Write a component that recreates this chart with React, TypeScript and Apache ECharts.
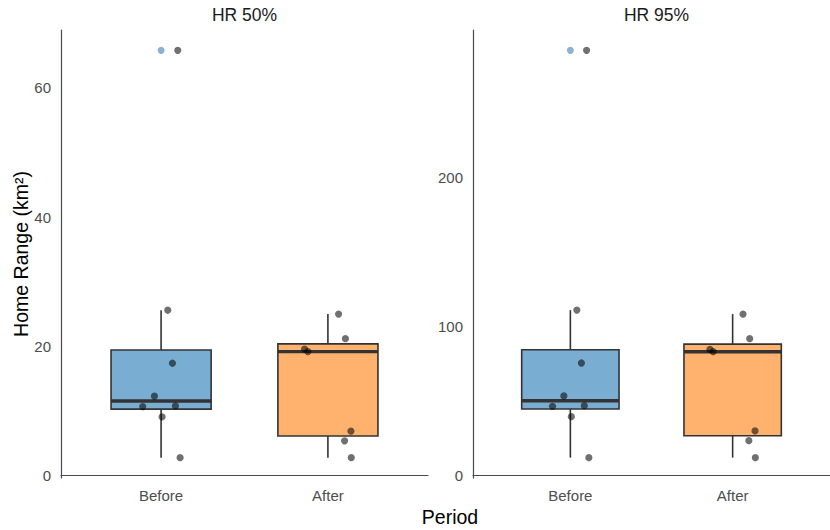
import { useEffect, useRef } from "react";
import * as echarts from "echarts";

// Period categories, drawn at x = 1 and x = 2
const periods = ["Before", "After"];

// Home range areas (km²) per animal
const hr50Before = [65.8, 25.6, 17.4, 12.3, 10.7, 10.8, 9.1, 2.8];
const hr50After = [25.0, 21.2, 19.6, 19.2, 6.9, 5.4, 2.8];
const hr95Before = [285, 110.7, 75.2, 53.1, 46.1, 46.6, 39.2, 11.7];
const hr95After = [108, 91.5, 84.3, 82.8, 29.6, 23.1, 11.7];

// Horizontal jitter of each point (in category units)
const jitterBefore = [0.1, 0.04, 0.068, -0.04, -0.11, 0.086, 0.006, 0.114];
const jitterAfter = [0.064, 0.105, -0.14, -0.12, 0.138, 0.1, 0.14];

// Tick labels
const hr50Ticks = [0, 20, 40, 60];
const hr95Ticks = [0, 100, 200];

const panelTitles = ["HR 50%", "HR 95%"];
const boxFills = ["#79add2", "#ffb26e"];

const FONT = "'Liberation Sans', Arial, Helvetica, sans-serif";
const BOX_WIDTH = 0.6;

function quantile(sorted: number[], p: number) {
  const h = (sorted.length - 1) * p;
  const lo = Math.floor(h);
  const hi = Math.min(lo + 1, sorted.length - 1);
  return sorted[lo] + (h - lo) * (sorted[hi] - sorted[lo]);
}

function boxStats(values: number[]) {
  const s = [...values].sort((a, b) => a - b);
  const q1 = quantile(s, 0.25);
  const med = quantile(s, 0.5);
  const q3 = quantile(s, 0.75);
  const iqr = q3 - q1;
  const inside = s.filter((v) => v >= q1 - 1.5 * iqr && v <= q3 + 1.5 * iqr);
  const outliers = s.filter((v) => v < q1 - 1.5 * iqr || v > q3 + 1.5 * iqr);
  return {
    box: [inside[0], q1, med, q3, inside[inside.length - 1]],
    outliers,
  };
}

function expandedRange(groups: number[][]) {
  const all = groups.flat();
  const mn = Math.min(...all);
  const mx = Math.max(...all);
  const pad = (mx - mn) * 0.05;
  return [mn - pad, mx + pad];
}

function buildPanel(idx: number, before: number[], after: number[], ticks: number[]) {
  const groups = [before, after];
  const stats = groups.map(boxStats);
  const [ymin, ymax] = expandedRange(groups);

  const xAxis = {
    type: "value",
    gridIndex: idx,
    min: 0.4,
    max: 2.6,
    axisLine: { show: true, lineStyle: { color: "#4a4a4a", width: 1.2 } },
    axisTick: { show: false },
    splitLine: { show: false },
    axisLabel: {
      customValues: [1, 2],
      formatter: (v: number) => periods[Math.round(v) - 1] ?? "",
      color: "#4d4d4d",
      fontSize: 15,
      fontFamily: FONT,
      margin: 10,
    },
  };

  const yAxis = {
    type: "value",
    gridIndex: idx,
    min: ymin,
    max: ymax,
    axisLine: { show: true, lineStyle: { color: "#4a4a4a", width: 1.2 } },
    axisTick: { show: false },
    splitLine: { show: false },
    axisLabel: {
      customValues: ticks,
      color: "#4d4d4d",
      fontSize: 15,
      fontFamily: FONT,
      margin: 10,
    },
  };

  const boxSeries = {
    type: "custom",
    xAxisIndex: idx,
    yAxisIndex: idx,
    silent: true,
    z: 2,
    data: stats.map((st, i) => [i + 1, ...st.box]),
    renderItem: (params: any, api: any) => {
      const x = api.value(0);
      const lo = api.coord([x, api.value(1)]);
      const q1 = api.coord([x, api.value(2)]);
      const med = api.coord([x, api.value(3)]);
      const q3 = api.coord([x, api.value(4)]);
      const hi = api.coord([x, api.value(5)]);
      const half = api.size([BOX_WIDTH, 0])[0] / 2;
      const cx = lo[0];
      const stroke = "#333333";
      return {
        type: "group",
        children: [
          {
            type: "line",
            shape: { x1: cx, y1: hi[1], x2: cx, y2: q3[1] },
            style: { stroke, lineWidth: 1.6 },
          },
          {
            type: "line",
            shape: { x1: cx, y1: q1[1], x2: cx, y2: lo[1] },
            style: { stroke, lineWidth: 1.6 },
          },
          {
            type: "rect",
            shape: { x: cx - half, y: q3[1], width: half * 2, height: q1[1] - q3[1] },
            style: { fill: boxFills[params.dataIndex], stroke, lineWidth: 1.6 },
          },
          {
            type: "line",
            shape: { x1: cx - half, y1: med[1], x2: cx + half, y2: med[1] },
            style: { stroke, lineWidth: 3.4 },
          },
        ],
      };
    },
  };

  const outlierSeries = {
    type: "scatter",
    xAxisIndex: idx,
    yAxisIndex: idx,
    silent: true,
    z: 3,
    symbolSize: 7,
    itemStyle: { color: "#6c9fcc" },
    data: stats.flatMap((st, i) => st.outliers.map((v) => [i + 1, v])),
  };

  const jitters = [jitterBefore, jitterAfter];
  const pointSeries = {
    type: "scatter",
    xAxisIndex: idx,
    yAxisIndex: idx,
    silent: true,
    z: 4,
    symbolSize: 7.2,
    itemStyle: { color: "rgba(0,0,0,0.7)" },
    data: groups.flatMap((g, i) => g.map((v, k) => [i + 1 + jitters[i][k], v])),
  };

  return { xAxis, yAxis, series: [boxSeries, outlierSeries, pointSeries] };
}

export default function App() {
  const ref = useRef<HTMLDivElement>(null);

  useEffect(() => {
    document.body.style.margin = "0";
    if (!ref.current) return;
    const chart = echarts.init(ref.current, undefined, { renderer: "svg" });

    const left = buildPanel(0, hr50Before, hr50After, hr50Ticks);
    const right = buildPanel(1, hr95Before, hr95After, hr95Ticks);

    const grids = [
      { left: 61, top: 30, width: 367, height: 448 },
      { left: 473, top: 30, width: 367, height: 448 },
    ];

    chart.setOption({
      animation: false,
      backgroundColor: "#ffffff",
      grid: grids,
      xAxis: [left.xAxis, right.xAxis],
      yAxis: [left.yAxis, right.yAxis],
      series: [...left.series, ...right.series],
      graphic: [
        ...panelTitles.map((t, i) => ({
          type: "text",
          x: grids[i].left + grids[i].width / 2,
          y: 15,
          style: {
            text: t,
            fontSize: 17.5,
            fontFamily: FONT,
            fill: "#1a1a1a",
            align: "center",
            verticalAlign: "middle",
          },
        })),
        {
          type: "text",
          x: 450,
          y: 517,
          style: {
            text: "Period",
            fontSize: 19.5,
            fontFamily: FONT,
            fill: "#000000",
            align: "center",
            verticalAlign: "middle",
          },
        },
        {
          type: "text",
          x: 21,
          y: 254,
          rotation: Math.PI / 2,
          style: {
            text: "Home Range (km²)",
            fontSize: 19.5,
            fontFamily: FONT,
            fill: "#000000",
            align: "center",
            verticalAlign: "middle",
          },
        },
      ],
    });

    return () => chart.dispose();
  }, []);

  return <div ref={ref} style={{ width: 830, height: 530 }} />;
}
